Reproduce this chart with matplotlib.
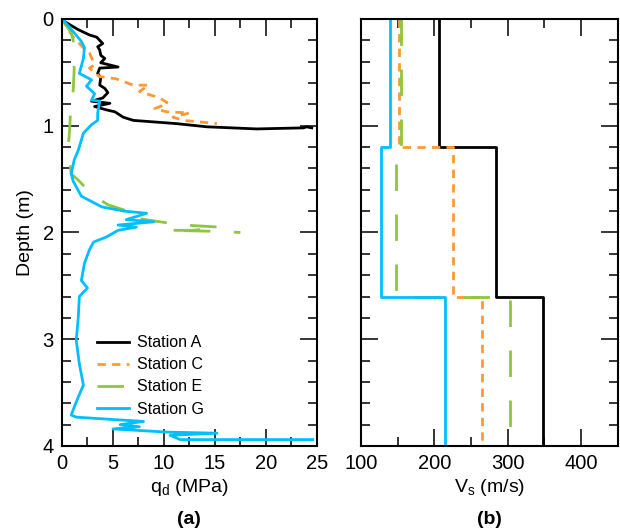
import numpy as np
import matplotlib.pyplot as plt
from matplotlib.ticker import MultipleLocator

plt.rcParams['font.family'] = ['Liberation Sans', 'DejaVu Sans']
plt.rcParams['mathtext.fontset'] = 'custom'
plt.rcParams['mathtext.rm'] = 'Liberation Sans'
plt.rcParams['lines.scale_dashes'] = False

stations = ['Station A', 'Station C', 'Station E', 'Station G']
colors = ['black', '#FF9933', '#8DC63F', '#00BFFF']
styles = ['-', (0, (6, 4.5)), (0, (19, 17)), '-']

# (a) dynamic cone resistance profiles, depth (m) vs q_d (MPa)
depth_A = [0, 0.025, 0.1, 0.15, 0.17, 0.2, 0.23, 0.26, 0.29, 0.34, 0.37, 0.41, 0.45, 0.46,
           0.51, 0.55, 0.62, 0.65, 0.69, 0.74, 0.77, 0.79, 0.82, 0.85, 0.87, 0.92, 0.95,
           0.96, 0.98, 1.01, 1.03, 1.02, 1.01, 1.02]
qd_A = [0, 0.26, 1.6, 2.7, 3.4, 3.7, 4.0, 3.5, 3.7, 3.8, 4.2, 3.8, 5.5, 3.7,
        3.5, 3.8, 3.7, 4.2, 4.5, 4.0, 2.9, 4.7, 3.2, 4.3, 5.2, 6.0, 7.0,
        8.4, 11.2, 14.2, 19.1, 23.7, 24.0, 24.5]

depth_C = [0, 0.12, 0.17, 0.27, 0.32, 0.43, 0.46, 0.54, 0.56, 0.62, 0.62, 0.68, 0.74,
           0.79, 0.84, 0.87, 0.88, 0.92, 0.95, 0.98]
qd_C = [0, 0.75, 1.1, 2.1, 2.7, 3.2, 2.7, 3.7, 5.3, 7.0, 8.5, 7.6, 9.6,
        10.4, 9.1, 10.3, 12.5, 10.9, 11.9, 15.2]

depth_E = [0, 0.13, 0.2, 0.37, 0.46, 0.67, 0.74, 1.04, 1.21, 1.45, 1.51, 1.59, 1.66,
           1.74, 1.79, 1.8, 1.87, 1.9, 1.93, 1.95, 1.98, 1.98, 1.99, 2.0]
qd_E = [0, 0.9, 1.1, 1.1, 1.2, 1.1, 0.9, 0.75, 0.6, 0.9, 1.6, 2.4, 3.2,
        4.5, 6.1, 5.7, 7.6, 9.6, 11.9, 15.5, 12.9, 10.3, 15.5, 17.5]

depth_G = [0, 0.025, 0.13, 0.21, 0.27, 0.37, 0.51, 0.57, 0.63, 0.70, 0.76, 0.77, 0.88,
           0.95, 0.99, 1.07, 1.23, 1.32, 1.45, 1.52, 1.66, 1.76, 1.80, 1.82, 1.88, 1.90,
           1.93, 1.95, 1.98, 2.04, 2.09, 2.16, 2.29, 2.45, 2.52, 2.60, 2.79, 3.01, 3.23,
           3.43, 3.54, 3.66, 3.71, 3.73, 3.77, 3.80, 3.82, 3.84, 3.87, 3.88, 3.90, 3.94, 3.94]
qd_G = [0, 0.26, 1.2, 1.9, 2.2, 2.1, 1.7, 2.9, 2.4, 3.2, 2.9, 3.7, 3.5,
        3.5, 2.9, 2.1, 1.6, 1.2, 0.9, 1.1, 1.9, 3.9, 6.1, 8.3, 6.3, 9.0,
        5.5, 7.3, 5.5, 4.4, 3.1, 2.7, 2.2, 1.9, 2.5, 1.7, 1.6, 1.4, 1.7,
        2.1, 1.6, 1.1, 0.9, 1.4, 8.0, 5.7, 7.6, 5.0, 10.3, 15.2, 10.6, 11.6, 24.6]

depths = [depth_A, depth_C, depth_E, depth_G]
qds = [qd_A, qd_C, qd_E, qd_G]

# (b) shear wave velocity layers
layer_tops = [0, 1.2, 2.6]
layer_bottoms = [1.2, 2.6, 4.0]
vs_A = [207, 284, 348]
vs_C = [152, 226, 265]
vs_E = [155, 148, 303]
vs_G = [140, 128, 215]
vss = [vs_A, vs_C, vs_E, vs_G]

fig = plt.figure(figsize=(6.2, 5.3), dpi=100)
ax1 = fig.add_axes([0.100, 0.1585, 0.411, 0.8057])
ax2 = fig.add_axes([0.582, 0.1585, 0.4145, 0.8057])

for name, col, ls, d, q in zip(stations, colors, styles, depths, qds):
    ax1.plot(q, d, color=col, linestyle=ls, lw=2, label=name)

for col, ls, v in zip(colors, styles, vss):
    xs, ys = [], []
    for top, bot, val in zip(layer_tops, layer_bottoms, v):
        xs += [val, val]
        ys += [top, bot]
    ax2.plot(xs, ys, color=col, linestyle=ls, lw=2)

for ax in (ax1, ax2):
    ax.set_ylim(4, 0)
    ax.yaxis.set_major_locator(MultipleLocator(1))
    ax.yaxis.set_minor_locator(MultipleLocator(0.2))
    ax.tick_params(which='both', direction='in', top=True, right=True, width=1.1,
                   labelsize=14.5, pad=6)
    ax.tick_params(which='major', length=12)
    ax.tick_params(which='minor', length=6.5)
    for s in ax.spines.values():
        s.set_linewidth(1.5)

ax1.set_xlim(0, 25)
ax1.xaxis.set_major_locator(MultipleLocator(5))
ax1.xaxis.set_minor_locator(MultipleLocator(2.5))
ax1.set_xlabel(r'q$_\mathrm{d}$ (MPa)', fontsize=14, labelpad=3)
ax1.set_ylabel('Depth (m)', fontsize=14, labelpad=6)
ax1.legend(loc='lower left', bbox_to_anchor=(0.08, 0.035), frameon=False, fontsize=11.5,
           handlelength=2.0, handletextpad=0.5, labelspacing=0.45)

ax2.set_xlim(100, 450)
ax2.xaxis.set_major_locator(MultipleLocator(100))
ax2.xaxis.set_minor_locator(MultipleLocator(50))
ax2.set_yticklabels([])
ax2.set_xlabel(r'V$_\mathrm{s}$ (m/s)', fontsize=14, labelpad=3)

fig.text(0.100 + 0.411 / 2, 0.012, '(a)', ha='center', fontsize=14, fontweight='bold')
fig.text(0.582 + 0.4145 / 2, 0.012, '(b)', ha='center', fontsize=14, fontweight='bold')

fig.savefig('out.png', dpi=100)
